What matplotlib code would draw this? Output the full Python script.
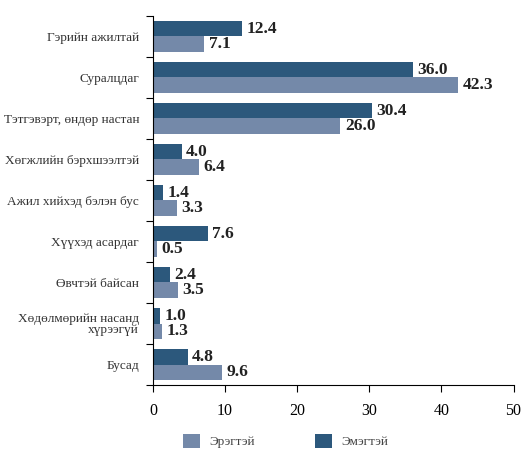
import numpy as np
import matplotlib.pyplot as plt

categories = ["Гэрийн ажилтай", "Суралцдаг", "Тэтгэвэрт, өндөр настан",
              "Хөгжлийн бэрхшээлтэй", "Ажил хийхэд бэлэн бус", "Хүүхэд асардаг",
              "Өвчтэй байсан", "Хөдөлмөрийн насанд\nхүрээгүй", "Бусад"]
men = [7.1, 42.3, 26.0, 6.4, 3.3, 0.5, 3.5, 1.3, 9.6]
women = [12.4, 36.0, 30.4, 4.0, 1.4, 7.6, 2.4, 1.0, 4.8]
xticks = [0, 10, 20, 30, 40, 50]

c_men = '#7489a9'
c_women = '#2c587c'

plt.rcParams['font.family'] = ['Liberation Serif', 'DejaVu Serif']

fig = plt.figure(figsize=(5.24, 4.49), dpi=100)
ax = fig.add_axes([0.292, 0.1425, 0.688, 0.822])

n = len(categories)
y = np.arange(n)
h = 0.37
ax.barh(y - h / 2, women, height=h, color=c_women, label='Эмэгтэй')
ax.barh(y + h / 2, men, height=h, color=c_men, label='Эрэгтэй')

for yi, v in zip(y, women):
    ax.text(v + 0.6, yi - h / 2, f"{v:.1f}", va='center', ha='left',
            fontsize=12.5, fontweight='bold', color='#222222')
for yi, v in zip(y, men):
    ax.text(v + 0.6, yi + h / 2, f"{v:.1f}", va='center', ha='left',
            fontsize=12.5, fontweight='bold', color='#222222')

ax.set_ylim(n - 0.5, -0.5)
ax.set_xlim(0, 50)
ax.set_xticks(xticks)
ax.set_xticklabels([str(t) for t in xticks], fontsize=11.5)

# category labels between boundary ticks
ax.set_yticks(np.arange(-0.5, n, 1.0))
ax.set_yticklabels([])
ax.set_yticks(y, minor=True)
ax.set_yticklabels(categories, minor=True, fontsize=9.5, color='#333333',
                   linespacing=0.9)
ax.tick_params(axis='y', which='minor', length=0, pad=10)
ax.tick_params(axis='y', which='major', length=5)
ax.tick_params(axis='x', length=5, pad=8)

for s in ['top', 'right']:
    ax.spines[s].set_visible(False)

handles, labels = ax.get_legend_handles_labels()
fig.legend(handles[::-1], labels[::-1], loc='lower center', bbox_to_anchor=(0.545, -0.025),
           ncol=2, frameon=False, fontsize=9.5, handlelength=1.25, handleheight=1.25,
           handletextpad=0.7, columnspacing=4.6, labelcolor='#444444')

fig.savefig('out.png', dpi=100)
